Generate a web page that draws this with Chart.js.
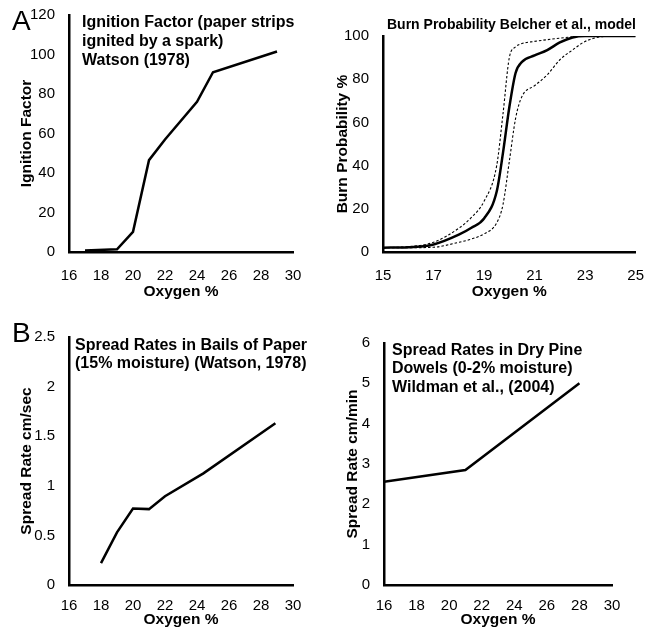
<!DOCTYPE html>
<html>
<head>
<meta charset="utf-8">
<script src="https://cdn.jsdelivr.net/npm/chart.js@4"></script>
<style>
  body { margin: 0; background: #fff; width: 651px; height: 631px; position: relative; overflow: hidden;
         font-family: "Liberation Sans", Arial, Helvetica, sans-serif; color: #000; }
  canvas { position: absolute; }
  .panel-label { position: absolute; font-size: 28px; line-height: 28px; }
  .note { position: absolute; font-weight: bold; font-size: 16px; line-height: 18.8px; white-space: nowrap; }
</style>
</head>
<body>
<canvas id="ignition" width="325" height="310" style="left:0;top:0"></canvas>
<canvas id="burn" width="326" height="310" style="left:325px;top:0"></canvas>
<canvas id="paper" width="325" height="321" style="left:0;top:310px"></canvas>
<canvas id="dowels" width="326" height="321" style="left:325px;top:310px"></canvas>

<div class="panel-label" style="left:12px;top:7px">A</div>
<div class="panel-label" style="left:12px;top:319px">B</div>
<div class="note" style="left:82px;top:13px">Ignition Factor (paper strips<br>ignited by a spark)<br>Watson (1978)</div>
<div class="note" style="left:387px;top:16px;font-size:14px;line-height:17px">Burn Probability Belcher et al., model</div>
<div class="note" style="left:75px;top:335.7px">Spread Rates in Bails of Paper<br>(15% moisture) (Watson, 1978)</div>
<div class="note" style="left:392px;top:340.7px">Spread Rates in Dry Pine<br>Dowels (0-2% moisture)<br>Wildman et al., (2004)</div>

<script>
// Ignition factor (Watson 1978)
const ignOxygen = [17, 19, 20, 21, 22, 24, 25, 29];
const ignFactor = [0.8, 1.4, 10.2, 46.5, 57, 76, 91, 101.5];

// Burn probability model (Belcher et al.) with bounds
const burnOxygen = [15, 16, 17, 18, 18.5, 19, 19.5, 19.75, 20, 20.25, 20.5, 21, 21.5, 22, 22.5, 23, 24, 25];
const burnMain   = [2, 2.2, 3.5, 8, 11.2, 15.5, 28, 46, 67, 83, 88, 91, 93.5, 97, 99.3, 100, 100, 100];
const burnUpper  = [2, 2.5, 4.5, 11, 16, 23.5, 40, 64, 90, 95, 96.5, 97.5, 98.3, 99, 99.6, 100, 100, 100];
const burnLower  = [2, 2, 2.2, 4.5, 6, 8.4, 13.5, 22, 42, 62, 72, 77, 82, 89, 93.5, 97.5, 100, 100];

// Spread rates in bails of paper (Watson 1978)
const paperOxygen = [18, 19, 20, 21, 22, 24.4, 28.9];
const paperRate   = [0.22, 0.53, 0.77, 0.765, 0.895, 1.125, 1.63];

// Spread rates in dry pine dowels (Wildman et al. 2004)
const dowelOxygen = [16, 21, 28];
const dowelRate   = [2.56, 2.85, 5.0];

const FONT = '"Liberation Sans", Arial, Helvetica, sans-serif';
Chart.defaults.color = '#000';
Chart.defaults.font.family = FONT;

const pts = (xs, ys) => xs.map((x, i) => ({ x, y: ys[i] }));

function solid(xs, ys, smooth) {
  return { data: pts(xs, ys), borderColor: '#000', borderWidth: 2.5, pointRadius: 0,
           cubicInterpolationMode: smooth ? 'monotone' : 'default', tension: 0 };
}
function dashed(xs, ys) {
  return { data: pts(xs, ys), borderColor: '#000', borderWidth: 1.1, borderDash: [2.5, 2],
           pointRadius: 0, cubicInterpolationMode: 'monotone' };
}

// box = canvas rect on the page, area = wanted plot area on the page
function makePanel(id, box, area, yTitleX, xTitleY, xPad, xAxis, yAxis, datasets) {
  const half = 15.5 * 1.2 / 2;
  const yLeft = yTitleX - half;
  const xBottom = xTitleY + half;
  const yWidth = area.left - yLeft;
  const xHeight = xBottom - area.bottom;
  const titleFont = { size: 15.5, weight: 'bold', family: FONT };
  const tickFont = { size: 15, family: FONT };
  new Chart(document.getElementById(id), {
    type: 'line',
    data: { datasets },
    options: {
      responsive: false, animation: false,
      layout: { padding: { left: yLeft - box.x, top: area.top - box.y,
                           right: box.x + box.w - area.right, bottom: box.y + box.h - xBottom } },
      plugins: { legend: { display: false }, tooltip: { enabled: false } },
      scales: {
        x: {
          type: 'linear', min: xAxis.min, max: xAxis.max,
          grid: { display: false }, border: { color: '#000', width: 2.5 },
          ticks: { stepSize: xAxis.step, padding: xPad, font: tickFont, maxRotation: 0, autoSkip: false },
          title: { display: true, text: 'Oxygen %', font: titleFont, padding: 0 },
          afterFit: s => { s.height = xHeight; }
        },
        y: {
          min: yAxis.min, max: yAxis.max,
          grid: { display: false }, border: { color: '#000', width: 2.5 },
          ticks: { stepSize: yAxis.step, padding: 6, font: tickFont, callback: v => String(+v.toFixed(1)) },
          title: { display: true, text: yAxis.title, font: titleFont, padding: 0 },
          afterFit: s => { s.width = yWidth; }
        }
      }
    }
  });
}

makePanel('ignition', { x: 0, y: 0, w: 325, h: 310 }, { left: 69, top: 14, right: 293, bottom: 252 }, 27, 292, 7,
  { min: 16, max: 30, step: 2 }, { min: 0, max: 120, step: 20, title: 'Ignition Factor' },
  [solid(ignOxygen, ignFactor)]);

makePanel('burn', { x: 325, y: 0, w: 326, h: 310 }, { left: 383, top: 36, right: 640, bottom: 252 }, 343, 292, 7,
  { min: 15, max: 25, step: 2 }, { min: 0, max: 100, step: 20, title: 'Burn Probability %' },
  [dashed(burnOxygen, burnUpper), dashed(burnOxygen, burnLower), solid(burnOxygen, burnMain, true)]);

makePanel('paper', { x: 0, y: 310, w: 325, h: 321 }, { left: 69, top: 337, right: 293, bottom: 585 }, 27, 620, 4,
  { min: 16, max: 30, step: 2 }, { min: 0, max: 2.5, step: 0.5, title: 'Spread Rate cm/sec' },
  [solid(paperOxygen, paperRate)]);

makePanel('dowels', { x: 325, y: 310, w: 326, h: 321 }, { left: 384, top: 343, right: 612, bottom: 585 }, 353, 620, 4,
  { min: 16, max: 30, step: 2 }, { min: 0, max: 6, step: 1, title: 'Spread Rate cm/min' },
  [solid(dowelOxygen, dowelRate)]);
</script>
</body>
</html>
